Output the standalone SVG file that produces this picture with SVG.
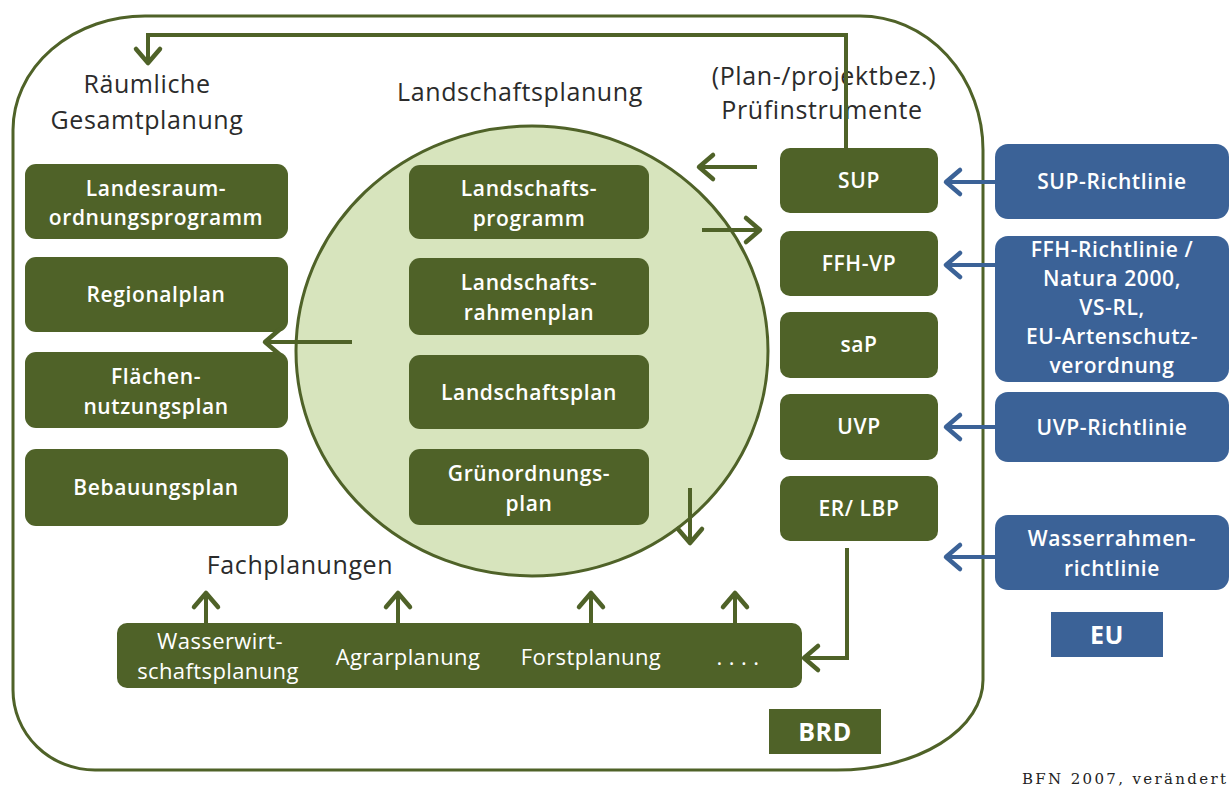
<svg xmlns="http://www.w3.org/2000/svg" width="1230" height="787" viewBox="0 0 1230 787">
<defs>
<style>
.g{fill:#4f6228}
.b{fill:#3b6297}
.t{font-family:"Open Sans","Liberation Sans",sans-serif;fill:#fff;font-weight:600;font-size:21px;letter-spacing:0.6px;text-anchor:middle}
.r{font-family:"Open Sans","Liberation Sans",sans-serif;fill:#fff;font-size:22px;letter-spacing:0.4px;text-anchor:middle}
.h{font-family:"Open Sans","Liberation Sans",sans-serif;fill:#2b2b2b;font-size:25px;letter-spacing:0.6px;text-anchor:middle}
.cg{fill:none;stroke:#4f6228;stroke-width:4}
.cb{fill:none;stroke:#3b6297;stroke-width:4}
</style>
<marker id="ag" viewBox="-20 -16 24 32" refX="0" refY="0" markerWidth="24" markerHeight="32" markerUnits="userSpaceOnUse" orient="auto" overflow="visible">
<path d="M-14,-12 L0,0 L-14,12" fill="none" stroke="#4f6228" stroke-width="4.5" stroke-linejoin="round" stroke-linecap="round"/>
</marker>
<marker id="ab" viewBox="-20 -16 24 32" refX="0" refY="0" markerWidth="24" markerHeight="32" markerUnits="userSpaceOnUse" orient="auto" overflow="visible">
<path d="M-14,-12 L0,0 L-14,12" fill="none" stroke="#3b6297" stroke-width="4.5" stroke-linejoin="round" stroke-linecap="round"/>
</marker>
</defs>
<rect width="1230" height="787" fill="#fff"/>

<g id="brd-frame">
<path d="M145,16 L860,16 A123,134 0 0 1 983,150 L983,680 A146,90 0 0 1 837,770 L95,770 A82,80 0 0 1 13,690 L13,130 A132,114 0 0 1 145,16 Z" fill="none" stroke="#4f6228" stroke-width="3"/>
</g>

<g id="landschaft-circle">
<ellipse cx="532" cy="351" rx="236" ry="225" fill="#d7e4bd" stroke="#4f6228" stroke-width="3"/>
</g>

<g id="titles">
<text class="h" x="147" y="93">Räumliche</text>
<text class="h" x="147" y="129">Gesamtplanung</text>
<text class="h" x="520" y="101">Landschaftsplanung</text>
<text class="h" x="824" y="85">(Plan-/projektbez.)</text>
<text class="h" x="822" y="119">Prüfinstrumente</text>
<text class="h" x="300" y="574">Fachplanungen</text>
</g>

<g id="landesraum"><rect class="g" x="25" y="164" width="263" height="75" rx="11"/><text class="t" x="156" y="196">Landesraum-</text><text class="t" x="156" y="225">ordnungsprogramm</text></g>
<g id="regionalplan"><rect class="g" x="25" y="257" width="263" height="75" rx="11"/><text class="t" x="156" y="302">Regionalplan</text></g>
<g id="flaechennutzungsplan"><rect class="g" x="25" y="352" width="263" height="76" rx="11"/><text class="t" x="156" y="384">Flächen-</text><text class="t" x="156" y="414">nutzungsplan</text></g>
<g id="bebauungsplan"><rect class="g" x="25" y="449" width="263" height="77" rx="11"/><text class="t" x="156" y="495">Bebauungsplan</text></g>

<g id="landschaftsprogramm"><rect class="g" x="409" y="165" width="240" height="74" rx="11"/><text class="t" x="529" y="196">Landschafts-</text><text class="t" x="529" y="226">programm</text></g>
<g id="landschaftsrahmenplan"><rect class="g" x="409" y="258" width="240" height="77" rx="11"/><text class="t" x="529" y="290">Landschafts-</text><text class="t" x="529" y="320">rahmenplan</text></g>
<g id="landschaftsplan"><rect class="g" x="409" y="355" width="240" height="74" rx="11"/><text class="t" x="529" y="400">Landschaftsplan</text></g>
<g id="gruenordnungsplan"><rect class="g" x="409" y="449" width="240" height="76" rx="11"/><text class="t" x="529" y="481">Grünordnungs-</text><text class="t" x="529" y="511">plan</text></g>

<g id="sup"><rect class="g" x="780" y="148" width="158" height="65" rx="10"/><text class="t" x="859" y="188">SUP</text></g>
<g id="ffh-vp"><rect class="g" x="780" y="231" width="158" height="65" rx="10"/><text class="t" x="859" y="271">FFH-VP</text></g>
<g id="sap"><rect class="g" x="780" y="312" width="158" height="66" rx="10"/><text class="t" x="859" y="352">saP</text></g>
<g id="uvp"><rect class="g" x="780" y="394" width="158" height="66" rx="10"/><text class="t" x="859" y="434">UVP</text></g>
<g id="er-lbp"><rect class="g" x="780" y="476" width="158" height="65" rx="10"/><text class="t" x="859" y="516">ER/ LBP</text></g>

<g id="sup-rl"><rect class="b" x="995" y="144" width="234" height="75" rx="13"/><text class="t" x="1112" y="189">SUP-Richtlinie</text></g>
<g id="ffh-rl"><rect class="b" x="995" y="236" width="234" height="146" rx="13"/><text class="t" x="1112" y="257">FFH-Richtlinie /</text><text class="t" x="1112" y="286">Natura 2000,</text><text class="t" x="1112" y="315">VS-RL,</text><text class="t" x="1112" y="344">EU-Artenschutz-</text><text class="t" x="1112" y="373">verordnung</text></g>
<g id="uvp-rl"><rect class="b" x="995" y="392" width="234" height="70" rx="13"/><text class="t" x="1112" y="435">UVP-Richtlinie</text></g>
<g id="wrrl"><rect class="b" x="995" y="515" width="234" height="75" rx="13"/><text class="t" x="1112" y="546">Wasserrahmen-</text><text class="t" x="1112" y="576">richtlinie</text></g>

<g id="fachplanungen-bar">
<rect class="g" x="117" y="623" width="685" height="65" rx="10"/>
<text class="r" x="220" y="649">Wasserwirt-</text>
<text class="r" x="218" y="679">schaftsplanung</text>
<text class="r" x="408" y="665">Agrarplanung</text>
<text class="r" x="591" y="665">Forstplanung</text>
<text class="r" x="738" y="665">. . . .</text>
</g>

<g id="brd-label"><rect class="g" x="769" y="709" width="112" height="45"/><text class="t" x="825" y="741" style="font-size:25px;font-weight:bold">BRD</text></g>
<g id="eu-label"><rect class="b" x="1051" y="612" width="112" height="45"/><text class="t" x="1107" y="644" style="font-size:25px;font-weight:bold">EU</text></g>

<g id="connectors">
<path class="cg" d="M846,148 V35 H148 V63" marker-end="url(#ag)"/>
<path class="cg" d="M757,167 H699" marker-end="url(#ag)"/>
<path class="cg" d="M702,230 H760" marker-end="url(#ag)"/>
<path class="cg" d="M352,342 H265" marker-end="url(#ag)"/>
<path class="cg" d="M690,488 V543" marker-end="url(#ag)"/>
<path class="cg" d="M847,548 V658 H804" marker-end="url(#ag)"/>
<path class="cg" d="M206,623 V593" marker-end="url(#ag)"/>
<path class="cg" d="M398,623 V593" marker-end="url(#ag)"/>
<path class="cg" d="M591,623 V593" marker-end="url(#ag)"/>
<path class="cg" d="M735,623 V593" marker-end="url(#ag)"/>
<path class="cb" d="M995,182 H946" marker-end="url(#ab)"/>
<path class="cb" d="M995,265 H946" marker-end="url(#ab)"/>
<path class="cb" d="M995,427 H946" marker-end="url(#ab)"/>
<path class="cb" d="M995,557 H946" marker-end="url(#ab)"/>
</g>

<text x="1022" y="784" textLength="204" lengthAdjust="spacing" style="font-family:'DejaVu Serif','Liberation Serif',serif;font-size:15px;fill:#222">BFN 2007, verändert</text>
</svg>
